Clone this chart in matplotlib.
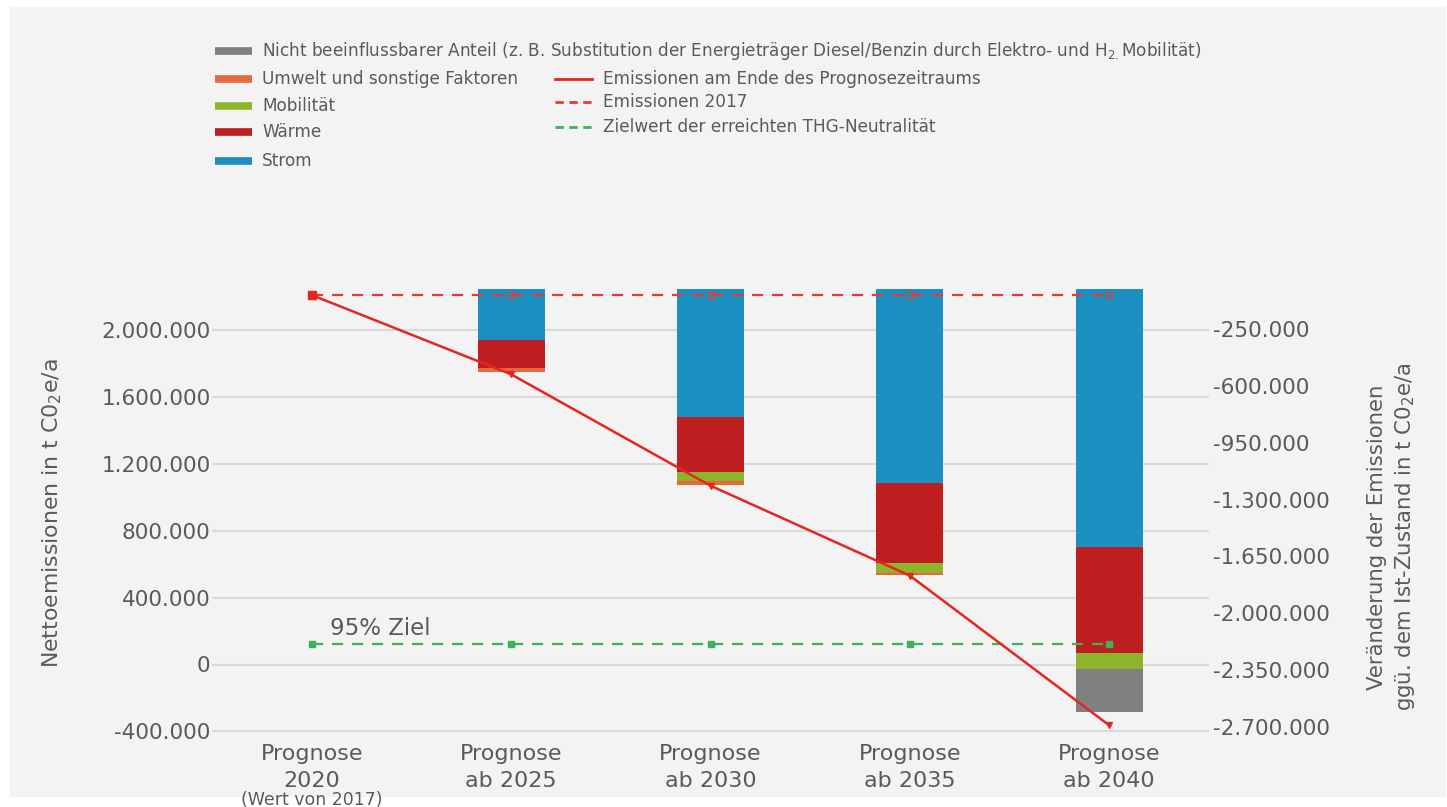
import numpy as np
import matplotlib
matplotlib.use('Agg')
import matplotlib.pyplot as plt
from matplotlib.lines import Line2D
from matplotlib.patches import Rectangle

# Daten
categories = ['Prognose\n2020', 'Prognose\nab 2025', 'Prognose\nab 2030',
              'Prognose\nab 2035', 'Prognose\nab 2040']
strom = [0, -318000, -792000, -1196000, -1594000]
waerme = [0, -170000, -340000, -492000, -649000]
mobilitaet = [0, 0, -55000, -65000, -102000]
umwelt = [0, -25000, -25000, -12000, 0]
nicht_beeinflussbar = [0, 0, 0, 0, -267000]
emissionen_ende = [2209000, 1735000, 1069000, 531000, -364000]
emissionen_2017 = [2209000, 2209000, 2209000, 2209000, 2209000]
zielwert = [122000, 122000, 122000, 122000, 122000]
left_ticks = [-400000, 0, 400000, 800000, 1200000, 1600000, 2000000]
right_ticks = [-250000, -600000, -950000, -1300000, -1650000, -2000000, -2350000, -2700000]

W, H = 1447, 807
TXT = '#5a5a5a'

def fx(px):
    return px / W

def fy(py):
    return 1 - py / H

def de_fmt(v):
    return f'{v:,.0f}'.replace(',', '.')

fig = plt.figure(figsize=(W / 100, H / 100), dpi=100, facecolor='white')
fig.patches.append(Rectangle((fx(10), fy(797)), fx(1436), 790 / H,
                             transform=fig.transFigure, facecolor='#f3f3f3',
                             edgecolor='none', zorder=-10))

top, bottom = 255, 745
pos = [fx(212), fy(bottom), fx(997), (bottom - top) / H]

# linke Achse: Gitter + Beschriftung
ax = fig.add_axes(pos, facecolor='none')
ax.set_zorder(1)
ax.set_xlim(-0.5, 4.5)
ax.set_ylim((664.5 - bottom) * 5979, (664.5 - top) * 5979)
ax.set_yticks(left_ticks)
ax.set_yticklabels([de_fmt(v) for v in left_ticks])
ax.grid(axis='y', color='#d9d9d9', linewidth=1.5)
ax.set_axisbelow(True)
ax.tick_params(axis='y', length=0, pad=1, labelsize=15.5, labelcolor=TXT)
ax.set_xticks(range(len(categories)))
ax.set_xticklabels(categories, fontsize=16, color=TXT, linespacing=1.45)
ax.tick_params(axis='x', length=0, pad=-1)
for s in ax.spines.values():
    s.set_visible(False)

# rechte Achse: Balken (Veränderung)
ax2 = ax.twinx()
ax2.set_zorder(2)
ax2.patch.set_visible(False)
ax2.set_ylim(-250000 - (bottom - 329.3) * 6165, -250000 + (329.3 - top) * 6165)
ax2.set_yticks(right_ticks)
ax2.set_yticklabels([de_fmt(v) for v in right_ticks])
ax2.tick_params(axis='y', length=0, pad=3, labelsize=15.5, labelcolor=TXT)
for s in ax2.spines.values():
    s.set_visible(False)

x = np.arange(len(categories))
bw = 0.336
base = np.zeros(len(categories))
for vals, col in [(strom, '#1a8fc0'), (waerme, '#be1e1f'), (mobilitaet, '#8cb52b'),
                  (umwelt, '#e8683d'), (nicht_beeinflussbar, '#808080')]:
    vals = np.array(vals)
    ax2.bar(x[1:], vals[1:], bw, bottom=base[1:], color=col, edgecolor='none')
    base = base + vals

# Linien oben
ax3 = fig.add_axes(pos, sharex=ax, sharey=ax, facecolor='none')
ax3.set_zorder(3)
ax3.axis('off')
ax3.plot(x, emissionen_2017, color='#e83a35', linestyle=(0, (5, 4)), linewidth=1.6,
         marker='s', markersize=5, markerfacecolor='none', markeredgecolor='#e83a35',
         markevery=[1, 2, 3, 4])
ax3.plot(x, zielwert, color='#3bb35a', linestyle=(0, (5, 4)), linewidth=1.6,
         marker='s', markersize=5)
ax3.plot(x, emissionen_ende, color='#e5261f', linewidth=1.8)
ax3.plot(x[0], emissionen_ende[0], 's', color='#e5261f', markersize=6)
ax3.plot(x[1:], emissionen_ende[1:], 'v', color='#e5261f', markersize=5)
ax3.text(0.09, 145000, '95% Ziel', fontsize=16.5, color=TXT, va='bottom')
ax.text(0, -0.112, '(Wert von 2017)', transform=ax.get_xaxis_transform(),
        ha='center', va='center', fontsize=12.5, color=TXT)

# Achsentitel
fig.text(fx(52), fy(513), 'Nettoemissionen in t C0$_2$e/a', rotation=90,
         ha='center', va='center', fontsize=15.8, color=TXT)
fig.text(fx(1392), fy(537), 'Veränderung der Emissionen\nggü. dem Ist-Zustand in t C0$_2$e/a',
         rotation=90, ha='center', va='center', fontsize=15.3, color=TXT, linespacing=1.3)

# Legende
patch_items = [
    ('Nicht beeinflussbarer Anteil (z. B. Substitution der Energieträger Diesel/Benzin '
     'durch Elektro- und H$_{2.}$Mobilität)', '#808080', 51),
    ('Umwelt und sonstige Faktoren', '#e8683d', 79),
    ('Mobilität', '#8cb52b', 106),
    ('Wärme', '#be1e1f', 132),
    ('Strom', '#1a8fc0', 161),
]
for label, col, py in patch_items:
    fig.add_artist(Line2D([fx(215), fx(252)], [fy(py), fy(py)], color=col,
                          linewidth=5.5, solid_capstyle='butt'))
    fig.text(fx(262), fy(py), label, fontsize=12.2, color=TXT, va='center')

line_items = [
    ('Emissionen am Ende des Prognosezeitraums', '#e5261f', '-', 79),
    ('Emissionen 2017', '#e83a35', (0, (3, 2)), 102),
    ('Zielwert der erreichten THG-Neutralität', '#3bb35a', (0, (3, 2)), 127),
]
for label, col, ls, py in line_items:
    fig.add_artist(Line2D([fx(555), fx(592)], [fy(py), fy(py)], color=col,
                          linewidth=2, linestyle=ls))
    fig.text(fx(603), fy(py), label, fontsize=12.2, color=TXT, va='center')

fig.savefig('out.png', dpi=100, facecolor='white')
